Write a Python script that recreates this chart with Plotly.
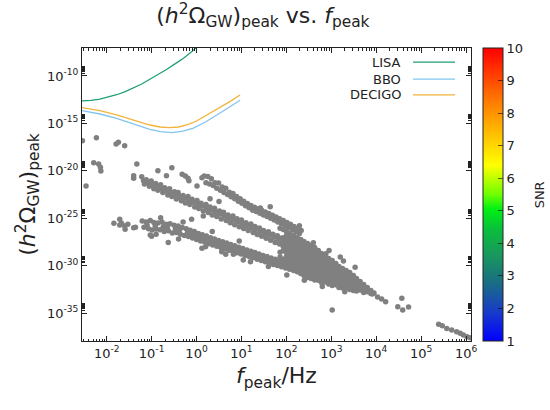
import plotly.graph_objects as go

# ---------------- data (log10 values) ----------------
# isolated / stray points
iso_logf = [-2.54, -2.23, -1.79, -1.74, -1.60, -2.29, -2.18, -2.14, -2.13, -2.46,
            -1.33, -1.40, -1.40, -0.86, -0.55, -0.67, -0.32, -0.25, -0.19, -0.17,
            0.01, 0.12, -0.11, 0.15, -1.03, -0.63, -1.00, 1.64, 1.42, 2.29,
            0.12, 0.56, 0.82, 1.04, 2.01,
            -0.90, -0.40, 0.20, 0.65, 1.20, 1.60, 2.40, 2.80, 3.30,
            -0.80, -0.30, 0.35, 0.95, 0.30, 0.50, 2.60, 2.95, 3.20]
iso_logo = [-16.82, -16.51, -17.18, -17.00, -17.35, -19.15, -19.28, -19.63, -20.02, -21.60,
            -19.28, -20.52, -20.79, -19.99, -19.67, -20.52, -20.37, -20.55, -20.79, -21.05,
            -21.60, -20.73, -25.12, -24.77, -26.77, -27.56, -26.90, -23.79, -23.92, -25.79,
            -28.18, -28.53, -28.81, -29.41, -30.99,
            -26.70, -27.20, -28.00, -28.80, -29.60, -30.10, -31.55, -32.20, -32.75,
            -24.95, -25.40, -26.40, -27.40, -22.95, -23.25, -27.60, -28.40, -29.10]

# main upper band (three rows)
upper_logf = [-1.22, -1.12, -1.01, -0.91, -0.80, -0.71, -0.60, -0.49, -0.41, -0.30, -0.19, -0.10,
              0.01, 0.10, 0.21, 0.30, 0.40, 0.51, 0.60, 0.70, 0.81, 0.90, 1.00, 1.10, 1.21, 1.30,
              1.40, 1.49, 1.60, 1.70, 1.80, 1.90, 2.00, 2.10, 2.20, 2.30,
              -1.16, -1.05, -0.95, -0.86, -0.75, -0.64, -0.55, -0.45, -0.34, -0.25, -0.15, -0.04,
              0.05, 0.15, 0.26, 0.35, 0.45, 0.55, 0.66, 0.75, 0.85, 0.95, 1.05, 1.15, 1.26, 1.35,
              1.45, 1.55, 1.65, 1.75, 1.85, 1.95, 2.05, 2.15, 2.25,
              -1.18, -1.08, -0.98, -0.88, -0.78, -0.68, -0.58, -0.48, -0.38, -0.28, -0.18, -0.08,
              0.02, 0.12, 0.22, 0.32, 0.42, 0.52, 0.62, 0.72, 0.82, 0.92, 1.02, 1.12, 1.22, 1.32,
              1.42, 1.52, 1.62, 1.72, 1.82, 1.92, 2.02, 2.12, 2.22]
upper_logo = [-20.62, -20.95, -21.08, -21.35, -21.48, -21.80, -21.90, -22.20, -22.30, -22.60, -22.72, -23.00,
              -23.12, -23.42, -23.55, -23.82, -23.95, -24.25, -24.38, -24.65, -24.78, -25.05, -25.20, -25.48,
              -25.60, -25.88, -26.02, -26.30, -26.42, -26.70, -26.85, -27.10, -27.25, -27.52, -27.68, -27.92,
              -21.40, -21.62, -21.90, -22.05, -22.30, -22.55, -22.70, -22.98, -23.15, -23.40, -23.55, -23.82,
              -23.98, -24.25, -24.40, -24.65, -24.82, -25.08, -25.25, -25.48, -25.68, -25.90, -26.08, -26.30,
              -26.50, -26.72, -26.90, -27.12, -27.32, -27.55, -27.72, -27.95, -28.15, -28.35, -28.55,
              -21.04, -21.25, -21.45, -21.66, -21.87, -22.07, -22.28, -22.48, -22.69, -22.90, -23.10, -23.31,
              -23.51, -23.72, -23.93, -24.13, -24.34, -24.55, -24.75, -24.96, -25.16, -25.37, -25.58, -25.78,
              -25.99, -26.19, -26.40, -26.61, -26.81, -27.02, -27.22, -27.43, -27.64, -27.84, -28.05]

# upper sub-band
sub_logf = [0.17, 0.25, 0.33, 0.41, 0.49, 0.57, 0.65, 0.73, 0.81, 0.89, 0.97, 1.05, 1.13, 1.21,
            1.29, 1.37, 1.45, 1.53, 1.61, 1.69, 1.77, 1.85, 1.93, 2.01, 2.09, 2.17, 2.25, 2.33,
            0.21, 0.29, 0.37, 0.45, 0.53, 0.61, 0.69, 0.77, 0.85, 0.93, 1.01, 1.09, 1.17, 1.25,
            1.33, 1.41, 1.49, 1.57, 1.65, 1.73, 1.81, 1.89, 1.97, 2.05, 2.13, 2.21, 2.29,
            0.91, 0.99, 1.07, 1.15, 1.23, 1.31, 1.39, 1.47, 1.55, 1.63, 1.71, 1.79, 1.87, 1.95,
            2.03, 2.11, 2.19, 2.27]
sub_logo = [-20.55, -20.60, -20.85, -21.25, -21.30, -21.70, -21.85, -22.25, -22.40, -22.70, -22.95,
            -23.20, -23.45, -23.65, -23.85, -24.00, -24.15, -24.35, -24.50, -24.70, -24.88, -25.05,
            -25.25, -25.45, -25.65, -25.88, -26.08, -26.30,
            -21.25, -21.40, -21.55, -21.85, -22.05, -22.30, -22.50, -22.75, -22.95, -23.20, -23.42,
            -23.68, -23.90, -24.15, -24.30, -24.48, -24.65, -24.82, -25.00, -25.20, -25.40, -25.58,
            -25.78, -25.98, -26.20, -26.42, -26.62,
            -22.95, -23.20, -23.45, -23.70, -23.90, -24.07, -24.24, -24.41, -24.58, -24.75, -24.93,
            -25.12, -25.31, -25.50, -25.70, -25.90, -26.12, -26.34]

# lower band
lower_logf = [-1.84, -1.71, -1.67, -1.71, -1.60, -1.59, -1.53, -1.40, -1.36,
              -1.21, -1.12, -1.03, -0.95, -0.86, -0.77, -0.68, -0.59, -0.50, -0.41, -0.32, -0.23,
              -0.14, -0.05, 0.04, 0.13, 0.22, 0.31, 0.40, 0.49, 0.58, 0.67, 0.76, 0.85, 0.94, 1.03,
              1.12, 1.21, 1.30, 1.39, 1.48, 1.57, 1.66, 1.75, 1.84,
              -1.17, -1.07, -0.99, -0.90, -0.81, -0.72, -0.63, -0.54, -0.45, -0.36, -0.27, -0.18,
              -0.09, 0.00, 0.09, 0.18, 0.27, 0.36, 0.45, 0.54, 0.63, 0.72, 0.81, 0.90, 0.99, 1.08,
              1.17, 1.26, 1.35, 1.44, 1.53, 1.62, 1.71, 1.80, 1.89, 1.98, 2.07, 2.16, 2.25,
              -1.10, -0.92, -0.74, -0.65, -0.47, -0.38, -0.20, -0.11, -0.02, 0.07, 0.16, 0.25,
              0.34, 0.43, 0.52, 0.61, 0.70, 0.79, 0.88, 0.97, 1.06, 1.15, 1.24, 1.33, 1.42, 1.51,
              1.60, 1.69, 1.78, 1.87]
lower_logo = [-25.54, -25.12, -25.54, -25.72, -25.82, -26.17, -25.65, -26.00, -25.96,
              -25.30, -25.40, -25.25, -25.45, -25.50, -25.40, -25.65, -25.58, -25.75, -25.82, -25.98,
              -26.10, -26.28, -26.40, -26.62, -26.75, -26.88, -27.05, -27.18, -27.35, -27.48, -27.62,
              -27.78, -27.90, -28.05, -28.20, -28.35, -28.48, -28.62, -28.78, -28.92, -29.05, -29.20,
              -29.32, -29.45,
              -25.95, -26.10, -26.25, -26.15, -26.22, -26.40, -26.32, -26.55, -26.50, -26.68, -26.82,
              -26.92, -27.10, -27.25, -27.40, -27.52, -27.70, -27.82, -27.95, -28.10, -28.25, -28.38,
              -28.50, -28.65, -28.78, -28.92, -29.05, -29.18, -29.32, -29.45, -29.60, -29.72, -29.88,
              -30.00, -30.12, -30.25, -30.38, -30.52, -30.65,
              -25.72, -25.82, -25.90, -26.00, -26.14, -26.25, -26.50, -26.70, -26.82, -27.00, -27.13,
              -27.30, -27.43, -27.58, -27.72, -27.87, -28.00, -28.15, -28.28, -28.42, -28.57, -28.70,
              -28.84, -28.97, -29.12, -29.26, -29.40, -29.54, -29.66, -29.80]

# dense core: (log10 f, [log10 Omega values])
core_cols = [
    (1.86, [-26.05, -28.60, -29.10]),
    (1.93, [-26.19, -27.09, -27.54, -27.99, -28.44, -29.34, -29.79]),
    (2.00, [-26.40, -26.85, -27.30, -27.75, -28.20, -28.65, -29.10, -29.55, -30.00]),
    (2.04, [-26.62, -28.42, -29.32]),
    (2.08, [-26.61, -27.06, -27.51, -27.96, -28.41, -28.86, -29.31, -29.76, -30.21]),
    (2.16, [-26.82, -27.27, -27.72, -28.17, -28.62, -29.07, -29.52, -29.97, -30.42]),
    (2.24, [-27.03, -27.48, -27.93, -28.38, -28.83, -29.28, -29.73, -30.18, -30.63]),
    (2.32, [-27.24, -27.69, -28.14, -28.59, -29.04, -29.49, -29.94, -30.39, -30.84]),
    (2.39, [-27.45, -27.90, -28.35, -28.80, -29.25, -29.70, -30.15, -30.60, -31.05]),
    (2.47, [-27.67, -28.12, -28.57, -29.02, -29.47, -29.92, -30.37, -30.82, -31.26]),
    (2.55, [-27.88, -28.33, -28.78, -29.23, -29.68, -30.13, -30.58, -31.03, -31.36]),
    (2.63, [-28.09, -28.54, -28.99, -29.44, -29.89, -30.34, -30.79, -31.24, -31.52]),
    (2.71, [-28.40, -28.85, -29.30, -29.75, -30.20, -30.65, -31.10, -31.55]),
    (2.78, [-28.72, -29.17, -29.62, -30.07, -30.52, -30.97, -31.42, -31.79]),
    (2.86, [-29.04, -29.49, -29.94, -30.39, -30.84, -31.29, -31.74]),
    (2.94, [-29.25, -29.70, -30.15, -30.60, -31.05, -31.50, -31.95]),
    (3.02, [-29.46, -29.91, -30.36, -30.81, -31.26, -31.71, -32.10]),
    (3.10, [-29.77, -30.22, -30.67, -31.12, -31.57, -32.02]),
    (3.17, [-30.09, -30.54, -30.99, -31.44, -31.89, -32.31]),
    (3.25, [-30.30, -30.75, -31.20, -31.65, -32.10, -32.37]),
    (3.33, [-30.51, -30.96, -31.41, -31.86, -32.31]),
    (3.41, [-30.72, -31.17, -31.62, -32.07, -32.52]),
    (3.49, [-31.04, -31.49, -31.94, -32.39, -32.63]),
    (3.56, [-31.36, -31.81, -32.26, -32.68]),
    (3.64, [-31.67, -32.12, -32.57]),
    (3.72, [-31.99, -32.44, -32.84]),
    (3.80, [-32.31, -32.75]),
    (3.88, [-32.62, -32.95]),
]

# tail and high-frequency points
tail_logf = [2.45, 2.59, 2.71, 2.88, 3.27, 3.53, 3.02, 3.91, 3.95, 4.03, 4.12, 4.21, 4.57, 4.48,
             4.59, 4.72, 5.39, 5.47, 5.57, 5.68, 5.79, 5.87, 5.94, 6.02, 6.09]
tail_logo = [-28.53, -28.35, -28.70, -28.75, -29.51, -30.18, -34.68, -33.00, -32.89, -33.31,
             -33.52, -33.81, -33.45, -34.34, -34.68, -34.37, -36.19, -36.35, -36.62, -36.80,
             -36.97, -37.14, -37.32, -37.50, -37.62]

# detector sensitivity curves
lisa_logf = [-2.60, -2.54, -2.35, -2.15, -1.95, -1.78, -1.60, -1.41, -1.22, -1.04, -0.85, -0.66, -0.48, -0.29, -0.11, 0.00]
lisa_logo = [-12.65, -12.64, -12.58, -12.44, -12.22, -11.98, -11.68, -11.30, -10.85, -10.35, -9.83, -9.29, -8.72, -8.13, -7.44, -7.00]
bbo_logf = [-2.60, -2.54, -2.15, -1.78, -1.41, -1.04, -0.80, -0.55, -0.30, -0.07, 0.20, 0.45, 0.70, 0.97]
bbo_logo = [-13.61, -13.66, -14.01, -14.46, -15.06, -15.62, -15.88, -15.97, -15.82, -15.50, -14.85, -14.15, -13.38, -12.56]
decigo_logf = [-2.60, -2.54, -2.15, -1.78, -1.41, -1.04, -0.81, -0.60, -0.40, -0.20, 0.00, 0.25, 0.50, 0.75, 0.97]
decigo_logo = [-13.29, -13.34, -13.66, -14.11, -14.64, -15.17, -15.38, -15.45, -15.38, -15.12, -14.75, -14.08, -13.38, -12.68, -12.00]

detectors = ["LISA", "BBO", "DECIGO"]
snr_range = [1, 10]
x_tick_exps = [-2, -1, 0, 1, 2, 3, 4, 5, 6]
y_tick_exps = [-10, -15, -20, -25, -30, -35]

# ---------------- assemble ----------------
all_logf = iso_logf + upper_logf + sub_logf + lower_logf + tail_logf
all_logo = iso_logo + upper_logo + sub_logo + lower_logo + tail_logo
for lf, vals in core_cols:
    for lo in vals:
        all_logf.append(lf)
        all_logo.append(lo)

FONT = "DejaVu Sans"
TXT = "#222222"
colors = {"LISA": "#1f9e78", "BBO": "#82c4ee", "DECIGO": "#f2b43c"}
curves = {"LISA": (lisa_logf, lisa_logo), "BBO": (bbo_logf, bbo_logo), "DECIGO": (decigo_logf, decigo_logo)}

fig = go.Figure()
fig.add_trace(go.Scatter(
    x=[10 ** v for v in all_logf], y=[10 ** v for v in all_logo], mode="markers",
    marker=dict(size=5.5, color="#808080", line=dict(width=0)),
    showlegend=False, hoverinfo="skip"))

for name in detectors:
    lf, lo = curves[name]
    fig.add_trace(go.Scatter(x=[10 ** v for v in lf], y=[10 ** v for v in lo], mode="lines",
                             line=dict(color=colors[name], width=1.3), name=name, showlegend=False))

cscale = [[0.0, "rgb(0,0,255)"], [0.1, "rgb(25,60,200)"], [0.2, "rgb(25,110,130)"],
          [0.29, "rgb(25,150,95)"], [0.38, "rgb(10,190,60)"], [0.45, "rgb(0,240,20)"],
          [0.5, "rgb(110,255,0)"], [0.6, "rgb(255,255,0)"], [0.7, "rgb(255,195,0)"],
          [0.83, "rgb(255,115,0)"], [1.0, "rgb(255,0,0)"]]
fig.add_trace(go.Scatter(
    x=[None, None], y=[None, None], mode="markers", showlegend=False, hoverinfo="skip",
    marker=dict(color=snr_range, cmin=snr_range[0], cmax=snr_range[1], colorscale=cscale, showscale=True,
                colorbar=dict(x=1.031, xanchor="left", xpad=0, y=0.5, yanchor="middle", ypad=0,
                              len=1, lenmode="fraction", thickness=20, outlinewidth=1, outlinecolor="#222",
                              tickvals=list(range(1, 11)), ticks="inside", ticklen=5,
                              tickcolor="rgba(0,0,0,0.6)", tickfont=dict(size=13, color=TXT, family=FONT)))))

def sup_label(e):
    return "10<sup>%s</sup>" % (str(e))

x_minor = [m * 10.0 ** e for e in range(-3, 7) for m in range(2, 10)]
y_minor = [m * 10.0 ** e for e in y_tick_exps for m in range(2, 10)]

fig.update_xaxes(type="log", range=[-2.55, 6.11],
                 tickvals=[10.0 ** e for e in x_tick_exps], ticktext=[sup_label(e) for e in x_tick_exps],
                 ticks="inside", ticklen=5, tickcolor="#222", showline=True, linecolor="#222", linewidth=1,
                 mirror="allticks", showgrid=False, zeroline=False,
                 minor=dict(tickvals=x_minor, ticks="inside", ticklen=2.5, tickcolor="#222", showgrid=False),
                 tickfont=dict(size=13, color=TXT, family=FONT),
                 title=dict(text="<i>f</i><sub>peak</sub>/Hz", font=dict(size=22, color=TXT, family=FONT), standoff=8))
fig.update_yaxes(type="log", range=[-37.95, -7.05],
                 tickvals=[10.0 ** e for e in y_tick_exps], ticktext=[sup_label(e) for e in y_tick_exps],
                 ticks="inside", ticklen=5, tickcolor="#222", showline=True, linecolor="#222", linewidth=1,
                 mirror="allticks", showgrid=False, zeroline=False,
                 minor=dict(tickvals=y_minor, ticks="inside", ticklen=3, tickcolor="#222", showgrid=False),
                 tickfont=dict(size=13, color=TXT, family=FONT),
                 title=dict(text="(<i>h</i><sup>2</sup>Ω<sub>GW</sub>)<sub>peak</sub>",
                            font=dict(size=22, color=TXT, family=FONT), standoff=5))

# legend drawn as text + short line segments (text on the left, sample on the right)
leg_y = {"LISA": 0.952, "BBO": 0.894, "DECIGO": 0.840}
for name in detectors:
    fig.add_annotation(x=0.825, y=leg_y[name], xref="paper", yref="paper", text=name, showarrow=False,
                       xanchor="right", yanchor="middle", font=dict(size=13, color=TXT, family=FONT))
    fig.add_shape(type="line", xref="paper", yref="paper", x0=0.851, x1=0.959, y0=leg_y[name], y1=leg_y[name],
                  line=dict(color=colors[name], width=1.3))

fig.add_annotation(x=1.177, y=0.5, xref="paper", yref="paper", text="SNR", showarrow=False, textangle=-90,
                   xanchor="center", yanchor="middle", font=dict(size=13, color=TXT, family=FONT))

fig.update_layout(
    width=550, height=410, margin=dict(l=82, r=79, t=48, b=69),
    paper_bgcolor="white", plot_bgcolor="white",
    font=dict(family=FONT, color=TXT),
    title=dict(text="(<i>h</i><sup>2</sup>Ω<sub>GW</sub>)<sub>peak</sub> vs. <i>f</i><sub>peak</sub>",
               x=0.478, xanchor="center", y=0.963, yanchor="middle", font=dict(size=22, color=TXT, family=FONT)),
)

fig.write_html("out.html")
